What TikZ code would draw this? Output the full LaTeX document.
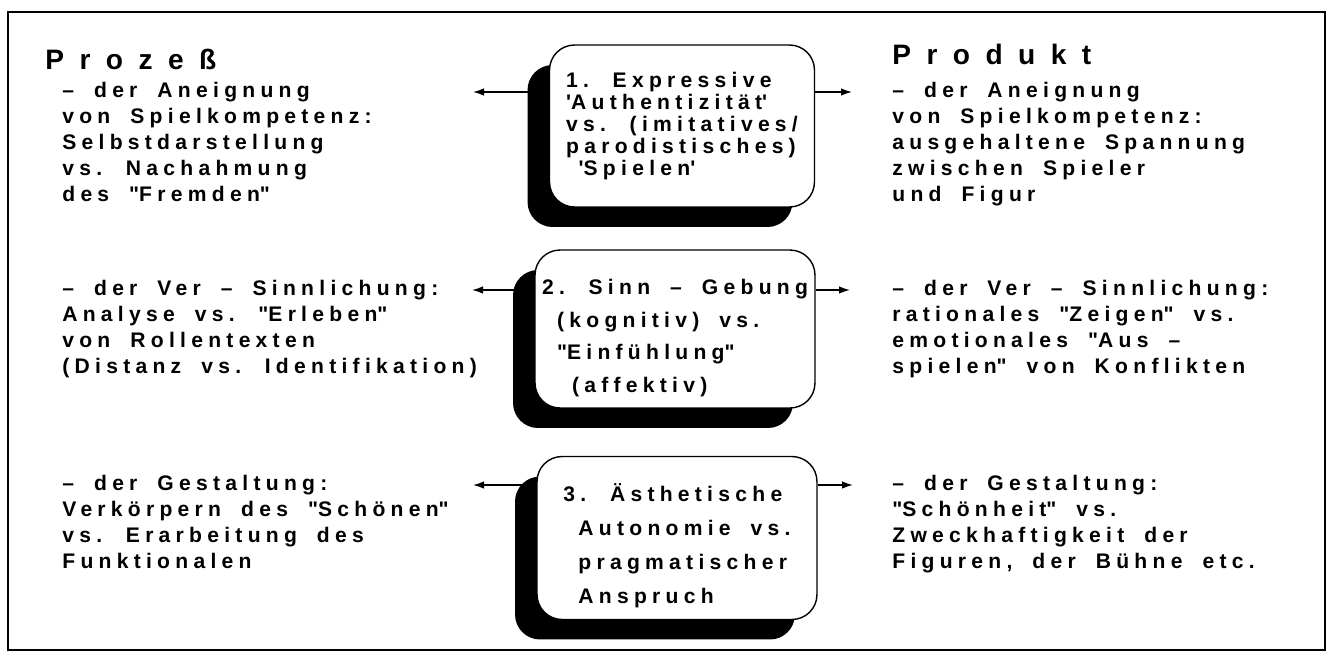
\documentclass[tikz,border=0pt]{standalone}
\usepackage{fontspec}
\setmainfont{Liberation Sans}[LetterSpace=25,WordSpace=1.8]
\newfontfamily\headfont{Liberation Sans}[LetterSpace=55]
\usetikzlibrary{arrows.meta,shadows}
\newcommand{\sq}{\textquotesingle}
\newcommand{\dq}{\textquotedbl}

\begin{document}
\begin{tikzpicture}[x=0.02cm, y=-0.02cm,
  txt/.style={anchor=north west,inner sep=0pt,align=left,font=\fontsize{12}{14.8}\selectfont\bfseries},
  head/.style={anchor=north west,inner sep=0pt,font=\headfont\fontsize{16}{18}\selectfont\bfseries},
  box/.style={draw,line width=0.8pt,fill=white,rounded corners=5mm,align=left,inner sep=1pt,
    font=\fontsize{12}{#1}\selectfont\bfseries,
    drop shadow={shadow xshift=-0.44cm,shadow yshift=-0.4cm,opacity=1,fill=black}},
  arr/.style={-{Latex[length=2.2mm,width=1.5mm]},line width=0.8pt}]
  \useasboundingbox (0,0) rectangle (1333,657);
  \draw[line width=0.8pt] (8,12) rectangle (1325,650);
  \node[head] (proz) at (45,49) {Prozeß};
  \node[head] (prod) at (892,44) {Produkt};
  \node[box=12.5,minimum width=5.3cm,minimum height=3.24cm] (b1) at (682,126)
    {1. Expressive\\\sq Authentizität\sq\\vs. (imitatives/\\parodistisches)\\\hspace*{0.25cm}\sq Spielen\sq};
  \node[box=18.5,minimum width=5.6cm,minimum height=3.16cm] (b2) at (675,329)
    {\rule{0pt}{19pt}2. Sinn – Gebung\\\hspace*{0.3cm}(kognitiv) vs.\\\hspace*{0.3cm}\dq Einfühlung\dq\\\hspace*{0.6cm}(affektiv)};
  \node[box=19.5,minimum width=5.6cm,minimum height=3.26cm] (b3) at (677,538)
    {\rule{0pt}{19pt}3. Ästhetische\\\hspace*{0.3cm}Autonomie vs.\\\hspace*{0.3cm}pragmatischer\\\hspace*{0.3cm}Anspruch};
  \node[txt] (pl1) at (62,82) {– der Aneignung\\von Spielkompetenz:\\Selbstdarstellung\\vs. Nachahmung\\des \dq Fremden\dq};
  \node[txt] (pr1) at (892,82) {– der Aneignung\\von Spielkompetenz:\\ausgehaltene Spannung\\zwischen Spieler\\und Figur};
  \node[txt] (pl2) at (62,280) {– der Ver – Sinnlichung:\\Analyse vs. \dq Erleben\dq\\von Rollentexten\\(Distanz vs. Identifikation)};
  \node[txt] (pr2) at (892,280) {– der Ver – Sinnlichung:\\rationales \dq Zeigen\dq\ vs.\\emotionales \dq Aus –\\spielen\dq\ von Konflikten};
  \node[txt] (pl3) at (62,475) {– der Gestaltung:\\Verkörpern des \dq Schönen\dq\\vs. Erarbeitung des\\Funktionalen};
  \node[txt] (pr3) at (892,475) {– der Gestaltung:\\\dq Schönheit\dq\ vs.\\Zweckhaftigkeit der\\Figuren, der Bühne etc.};
  \coordinate (la1) at (473,92);
  \coordinate (ra1) at (852,92);
  \coordinate (la2) at (472,290);
  \coordinate (ra2) at (850,290);
  \coordinate (la3) at (473,485);
  \coordinate (ra3) at (853,485);
  \draw[arr] (b1.west |- la1) -- (la1);
  \draw[arr] (b1.east |- ra1) -- (ra1);
  \draw[arr] (b2.west |- la2) -- (la2);
  \draw[arr] (b2.east |- ra2) -- (ra2);
  \draw[arr] (b3.west |- la3) -- (la3);
  \draw[arr] (b3.east |- ra3) -- (ra3);
\end{tikzpicture}
\end{document}
